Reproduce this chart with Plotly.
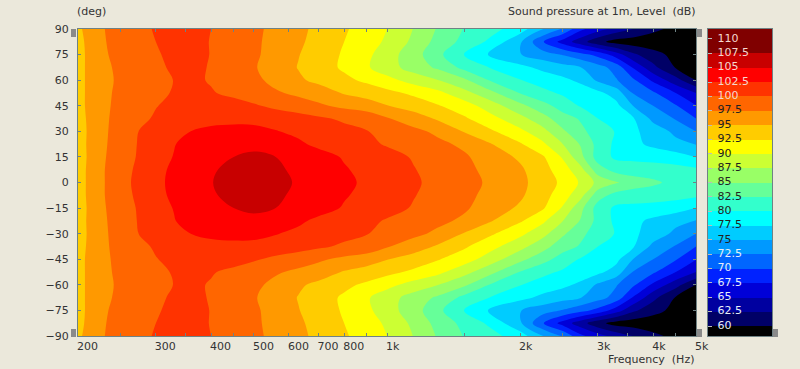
import math
import plotly.graph_objects as go

freqs = [200,215,230,250,275,300,330,360,400,450,500,560,630,700,800,900,1000,1150,1300,1500,1700,2000,2250,2500,2750,3000,3300,3600,4000,4500,5000]
angles_upper = [0,7.5,15,22.5,30,37.5,45,52.5,60,67.5,75,82.5,90]
z_0 = [93.7,96,97.5,99,100.8,102,103,104,104.9,106,106.6,105.8,104.7,104,103,102.1,101.3,100.3,99.4,98.3,97.2,95.7,93.7,92,89.6,86.8,85.2,84,83,81.7,80.9]
z_7 = [93.7,96,97.5,98.9,100.6,101.9,102.9,103.8,104.7,105.7,106.1,105.5,104.4,103.8,102.7,101.9,101,100.1,99.2,98.1,96.9,95.4,93.4,91.2,88.2,83.6,81.6,81,81,80.9,80.5]
z_15 = [93.7,95.8,97.4,98.7,100.3,101.6,102.6,103.4,104.3,105,105.5,105,104,103.4,102.3,101.5,100.8,99.8,98.8,97.8,96.4,94.6,92.8,89.7,85.6,81.4,79.5,79.5,79.2,78.6,77.4]
z_22 = [93.7,95.9,97.3,98.6,100.2,101.4,102.4,103.3,103.9,104.2,104.3,103.7,102.9,102,101.2,100.5,99.8,99,98.1,97,95.3,92.8,90.5,87.5,84.7,81.7,79.4,78.2,76.9,75.7,74.9]
z_30 = [93.7,95.8,97.2,98.6,100.05,100.9,101.7,102.5,103,103.2,103.2,102.6,102,101.5,100.7,100.1,99.2,98.1,97,94.8,93,90.6,88.3,85.4,83,81.4,79.8,78,76.4,74.4,72.5]
z_37 = [93.8,95.9,97.2,98.3,99.4,100.3,101,101.5,101.8,101.9,101.8,101.6,101,100.4,99.6,99.1,97.7,96.2,94.7,92.8,91,88.3,86,83.5,82.2,80,79,77.8,74.3,72.3,70]
z_45 = [94,96,97.1,98.2,99,99.9,100.6,100.9,101.1,101,100.3,99.4,98.7,97.9,96.9,96.2,95.1,93.9,92.7,91.1,88.9,85.7,83.4,81.4,79.7,79,78.2,75,72.5,70.2,67.6]
z_52 = [94,96,97.1,98,98.7,99.4,100.2,100.6,100.2,99.4,98.6,97.8,97,96.3,94.8,94,93.2,92,90.7,88.3,85.9,82.4,80.7,79.6,78.9,78.1,76.4,72.4,70.4,67.5,65]
z_60 = [94,96,97,97.9,98.6,99.3,100.05,100.5,99.8,99,98.1,96.8,95.4,94.4,93.1,92,90.8,89,87.6,85.4,82.5,80.1,78.9,78.1,76.9,74.6,72.7,70.5,67,63.5,60]
z_67 = [94,96,97.1,98,98.8,99.6,100.3,100.7,99.8,98.7,97.7,96.4,94.9,93.7,92.1,90.3,88.6,86.4,84.6,81.7,80,78.2,76.9,75.9,75,73.5,71.5,67.3,63.2,59.8,58.2]
z_75 = [94,96,97.3,98.2,99.2,99.7,100.7,101,99.9,98.9,97.9,96.6,95.1,93.9,92.2,90.6,88.6,86.1,83.2,79.9,77.4,75.1,73.6,72.3,70.8,69.2,66.2,63,60.9,59.2,58.2]
z_82 = [94.2,96,97.4,98.5,99.3,100,101,101.6,99.8,99,97.9,96.8,95.4,94.2,92.5,91.1,89.6,86.9,84.2,81.7,79.6,75.4,70.2,66.5,63.5,60.8,59,58.7,58.5,58.3,58.2]
z_90 = [94.5,96.2,97.5,98.6,99.4,100.2,101.5,101.9,100,99,98,96.9,95.5,94.5,92.8,91.4,90,87.4,84.8,82.3,81,78.7,75.1,72.2,68,66,64,62.5,60.6,59.3,58.5]

x_tick_values = [200,250,300,350,400,450,500,600,700,800,900,1000,1500,2000,2500,3000,3500,4000,4500,5000]
x_tick_labels = ["200","","300","","400","","500","600","700","800","","1k","","2k","","3k","","4k","","5k"]
y_tick_values = [90,75,60,45,30,15,0,-15,-30,-45,-60,-75,-90]
scale_levels = [110,107.5,105,102.5,100,97.5,95,92.5,90,87.5,85,82.5,80,77.5,75,72.5,70,67.5,65,62.5,60]
scale_text = ["110","107.5","105","102.5","100","97.5","95","92.5","90","87.5","85","82.5","80","77.5","75","72.5","70","67.5","65","62.5","60"]
scale_text_colors = ["#f5d8d0"]*5 + ["#222222"]*10 + ["#e8eef8"]*6
band_colors = ["#000000","#000066","#0000a0","#0000d8","#0022ff","#0066ff","#0099ff","#00ccff","#00ffff","#33ffcc","#66ff99",
               "#99ff66","#ccff33","#ffff00","#ffcc00","#ff9900","#ff6600","#ff3300","#ff0000","#c80000","#800000","#800000"]
band_mid = [58.75,61.25,63.75,66.25,68.75,71.25,73.75,76.25,78.75,81.25,83.75,86.25,88.75,91.25,93.75,96.25,98.75,101.25,103.75,106.25,108.75,111.25]

upper_rows = [z_0,z_7,z_15,z_22,z_30,z_37,z_45,z_52,z_60,z_67,z_75,z_82,z_90]
angles = [-a for a in angles_upper[:0:-1]] + angles_upper
z = upper_rows[:0:-1] + upper_rows

ZMIN, ZMAX = 57.5, 112.5
n = len(band_colors)
colorscale = []
for i, c in enumerate(band_colors):
    colorscale += [[i/n, c], [(i+1)/n, c]]

W, H = 800, 369
BG = "#ebe8db"
TXT = "#333333"
FONT = "DejaVu Sans"
AX = "#6f8284"

fig = go.Figure()
fig.add_trace(go.Contour(
    x=freqs, y=angles, z=z, colorscale=colorscale, zmin=ZMIN, zmax=ZMAX, showscale=False,
    contours=dict(coloring="fill", start=60, end=110, size=2.5, showlines=False),
    line=dict(width=0, smoothing=1.0), hoverinfo="skip", xaxis="x", yaxis="y"))
fig.add_trace(go.Heatmap(
    x=[0,1], y=band_mid, z=[[m,m] for m in band_mid], colorscale=colorscale, zmin=ZMIN, zmax=ZMAX,
    showscale=False, hoverinfo="skip", xaxis="x2", yaxis="y2"))
fig.add_trace(go.Scatter(
    x=[0.15]*len(scale_levels), y=scale_levels, text=scale_text, mode="text", textposition="middle right",
    textfont=dict(family=FONT, size=11, color=scale_text_colors), hoverinfo="skip", showlegend=False,
    xaxis="x2", yaxis="y2"))

fig.update_layout(
    width=W, height=H, margin=dict(l=0,r=0,t=0,b=0), paper_bgcolor=BG, plot_bgcolor=BG, showlegend=False,
    font=dict(family=FONT, size=11, color=TXT),
    xaxis=dict(type="log", domain=[78/W,696/W], range=[math.log10(200),math.log10(5000)], anchor="y", automargin=False,
               tickmode="array", tickvals=x_tick_values, ticktext=x_tick_labels, ticks="inside", ticklen=3,
               tickcolor=AX, showgrid=False, zeroline=False, showline=True, linecolor=AX, linewidth=1, mirror="ticks",
               ticklabelposition="outside right", ticklabelshift=-2, tickfont=dict(size=11, color=TXT), tickangle=0),
    yaxis=dict(domain=[1-336/H,1-29/H], range=[-90,90], anchor="x", automargin=False, tickmode="array", tickvals=y_tick_values,
               ticks="inside", ticklen=3, tickcolor=AX, showgrid=False, zeroline=False, showline=True, linecolor=AX,
               linewidth=1, mirror="ticks", ticklabelstandoff=6, tickfont=dict(size=11, color=TXT)),
    xaxis2=dict(domain=[708/W,772/W], range=[0,1], anchor="y2", automargin=False, showticklabels=False, ticks="", showgrid=False,
                zeroline=False, showline=True, linecolor=AX, linewidth=1, mirror=True),
    yaxis2=dict(domain=[1-336/H,1-29/H], range=[58.26,111.74], anchor="x2", automargin=False, tickmode="array", tickvals=scale_levels,
                showticklabels=False, ticks="inside", ticklen=4, tickcolor="#bbbbbb", showgrid=False, zeroline=False,
                showline=True, linecolor=AX, linewidth=1, mirror=True),
    annotations=[
        dict(text="(deg)", xref="paper", yref="paper", x=75/W, y=1-12/H, xanchor="left", yanchor="middle", showarrow=False),
        dict(text="Sound pressure at 1m, Level  (dB)", xref="paper", yref="paper", x=698/W, y=1-12/H, xanchor="right", yanchor="middle", showarrow=False),
        dict(text="Frequency  (Hz)", xref="paper", yref="paper", x=696/W, y=1-359/H, xanchor="right", yanchor="middle", showarrow=False),
    ],
    shapes=[dict(type="rect", xref="paper", yref="paper", x0=a/W, x1=(a+5)/W, y0=1-(b+8)/H, y1=1-b/H,
                 fillcolor="#8a8a8a", line=dict(width=0))
            for a,b in [(71,29),(71,329),(697,29),(697,329),(773,329)]],
)
fig.write_html("out.html", config=dict(displayModeBar=False),
               post_script="document.body.style.margin='0';document.body.style.overflow='hidden';document.documentElement.style.overflow='hidden';")
